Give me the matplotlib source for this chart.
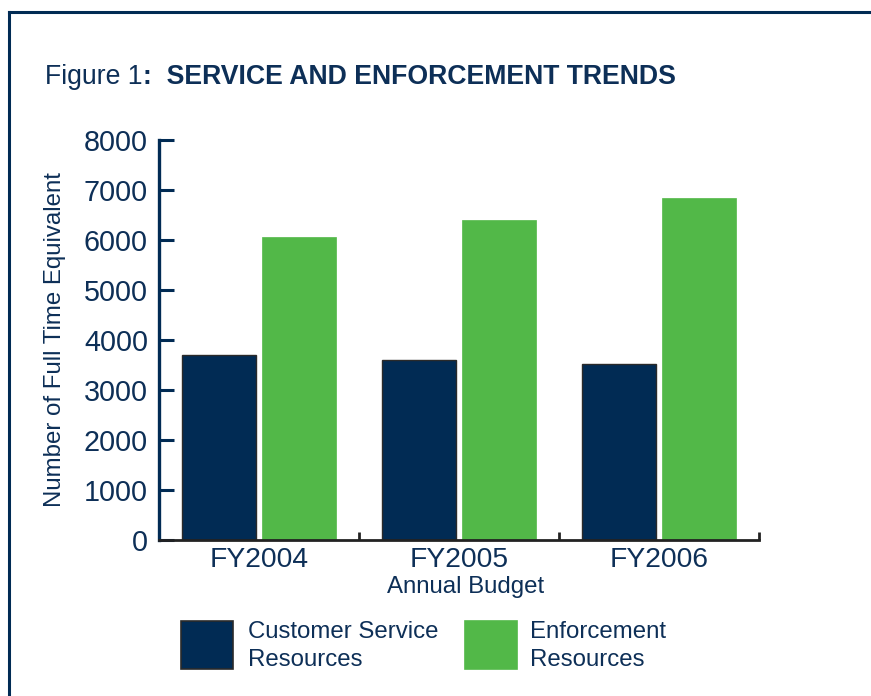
import matplotlib
matplotlib.use("Agg")
import matplotlib.pyplot as plt
from matplotlib.patches import Rectangle
from matplotlib.lines import Line2D

categories = ["FY2004", "FY2005", "FY2006"]
customer_service = [3705, 3605, 3530]
enforcement = [6055, 6400, 6840]
yticks = [0, 1000, 2000, 3000, 4000, 5000, 6000, 7000, 8000]
series_names = ["Customer Service\nResources", "Enforcement\nResources"]

NAVY = "#012B54"
GREEN = "#52B848"
TXT = "#0D2F57"

plt.rcParams['font.family'] = ['Liberation Sans', 'DejaVu Sans']

W, H = 871, 696
fig = plt.figure(figsize=(W / 100, H / 100), dpi=100)

def fx(px):
    return px / W

def fy(py):
    return 1 - py / H

# frame lines
fig.add_artist(Line2D([fx(9), 1], [fy(12), fy(12)], color=NAVY, lw=2.2, transform=fig.transFigure))
fig.add_artist(Line2D([fx(9), fx(9)], [fy(12), 0], color=NAVY, lw=2.2, transform=fig.transFigure))

ax = fig.add_axes([fx(159), fy(540), fx(759) - fx(159), fy(140) - fy(540)])

xs = list(range(len(categories)))
bw = 0.37
ax.bar([x - 0.2 for x in xs], customer_service, width=bw, color=NAVY,
       edgecolor="#2a2a2a", linewidth=1.0, zorder=2)
ax.bar([x + 0.2 for x in xs], enforcement, width=bw, color=GREEN,
       edgecolor=GREEN, linewidth=0.5, zorder=2)

ax.set_xlim(-0.5, 2.5)
ax.set_ylim(0, 8000)
ax.set_yticks(yticks)
ax.set_yticklabels([str(v) for v in yticks], fontsize=20.7, color=TXT)
ax.set_xticks(xs)
ax.set_xticklabels(categories, fontsize=20.3, color=TXT)
ax.set_xticks([0.5, 1.5, 2.5], minor=True)

ax.tick_params(axis='y', direction='in', length=11, width=2.2, color=NAVY, pad=8)
ax.tick_params(axis='x', which='major', length=0, pad=5)
ax.tick_params(axis='x', which='minor', direction='in', length=6, width=2.0, color='#222222')

for s in ["top", "right"]:
    ax.spines[s].set_visible(False)
ax.spines["left"].set_color(NAVY)
ax.spines["left"].set_linewidth(2.4)
ax.spines["bottom"].set_color("#222222")
ax.spines["bottom"].set_linewidth(2.0)

ax.set_ylabel("Number of Full Time Equivalent", fontsize=17.3, color=TXT, labelpad=13)
ax.set_xlabel("Annual Budget", fontsize=17.3, color=TXT)
ax.xaxis.set_label_coords((466 - 159) / 600, (540 - 576) / 400)

# title
t1 = fig.text(fx(45), fy(84), "Figure 1", fontsize=19.2, color=TXT, ha='left', va='baseline')
fig.canvas.draw()
bb = t1.get_window_extent()
fig.text(bb.x1 / W, fy(84), ":  SERVICE AND ENFORCEMENT TRENDS", fontsize=19.2,
         fontweight='bold', color=TXT, ha='left', va='baseline')

# legend
colors = [NAVY, GREEN]
edges = ["#2a2a2a", GREEN]
box_x = [181, 465]
text_x = [248, 530]
for i in range(2):
    fig.add_artist(Rectangle((fx(box_x[i]), fy(669)), fx(52), fy(621) - fy(669),
                             facecolor=colors[i], edgecolor=edges[i], lw=1.2,
                             transform=fig.transFigure))
    fig.text(fx(text_x[i]), fy(646), series_names[i], fontsize=17.3, color=TXT,
             ha='left', va='center', linespacing=1.32)

fig.savefig("out.png", dpi=100)
